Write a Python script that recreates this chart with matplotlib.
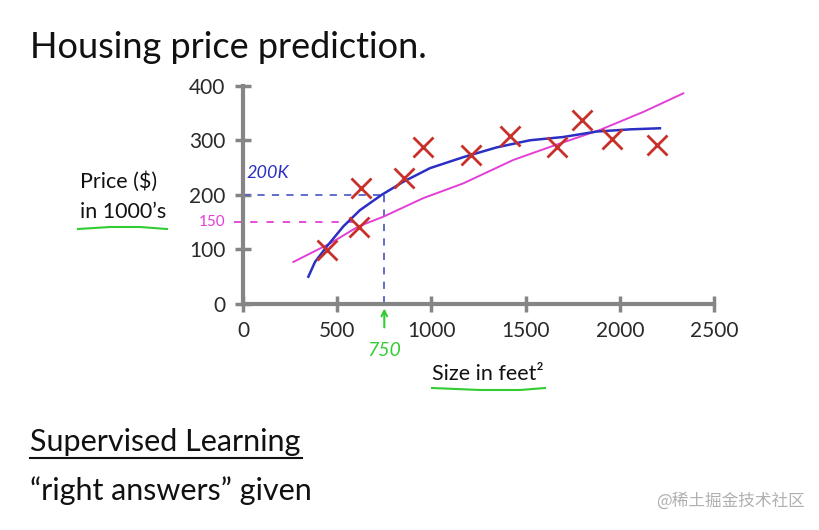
import matplotlib
matplotlib.use('Agg')
import matplotlib.pyplot as plt
from matplotlib.lines import Line2D

plt.rcParams['font.family'] = ['Lato', 'DejaVu Sans']

# training examples (size in feet^2, price in $1000's)
size = [447, 615, 624, 855, 953, 1211, 1416, 1665, 1798, 1958, 2198]
price = [99, 141, 212, 230, 287, 273, 308, 287, 337, 302, 291]

# hand drawn fits
quad_x = [347, 382, 444, 532, 621, 736, 851, 993, 1169, 1347, 1523, 1700, 1877, 2054, 2213]
quad_y = [50, 77, 105, 142, 172, 200, 224, 249, 269, 287, 300, 306, 316, 320, 322]
lin_x = [267, 462, 612, 745, 957, 1169, 1435, 1656, 1895, 2125, 2337]
lin_y = [77, 111, 142, 160, 194, 221, 264, 291, 319, 352, 386]

xticks = [0, 500, 1000, 1500, 2000, 2500]
yticks = [0, 100, 200, 300, 400]

W, H = 820, 530
fig = plt.figure(figsize=(W / 100, H / 100), dpi=100)


def fx(x):
    return x / W


def fy(y):
    return 1 - y / H


ax = fig.add_axes([fx(243), fy(304), fx(714) - fx(243), fy(85.7) - fy(304)])
ax.set_xlim(0, 2500)
ax.set_ylim(0, 400)
for s in ['top', 'right']:
    ax.spines[s].set_visible(False)
for s in ['left', 'bottom']:
    ax.spines[s].set_color('#858585')
    ax.spines[s].set_linewidth(3)
ax.set_xticks(xticks)
ax.set_yticks(yticks)
ax.tick_params(direction='inout', length=11, width=2.5, color='#858585',
               labelsize=15, labelcolor='#2a2a2a', pad=7)

blue = '#2b2fc4'
pink = '#e23fd6'
green = '#33cc33'

# guide lines
ax.plot([0, 750], [200, 200], ls=(0, (4, 4)), color='#5560c8', lw=1.3, clip_on=False)
ax.plot([750, 750], [200, 0], ls=(0, (4, 4)), color='#5560c8', lw=1.3, clip_on=False)
ax.plot([-50, 615], [150, 150], ls=(0, (4, 5)), color=pink, lw=1.3, clip_on=False)

ax.plot(lin_x, lin_y, color=pink, lw=1.4)
ax.plot(quad_x, quad_y, color=blue, lw=1.8)
ax.plot(size, price, 'x', color='#c8302a', ms=14, mew=2)

ax.text(20, 230, '200K', color=blue, fontsize=13, style='italic')
ax.text(-95, 150, '150', color=pink, fontsize=11, ha='right', va='center')
ax.annotate('', xy=(750, -3), xytext=(750, -48), annotation_clip=False,
            arrowprops=dict(arrowstyle='->', color=green, lw=1.5))
ax.text(750, -85, '750', color=green, fontsize=14, ha='center', va='center', style='italic')

fig.text(fx(30), fy(47), 'Housing price prediction.', fontsize=26, va='center', color='#111111')
fig.text(fx(80), fy(182), 'Price ($)', fontsize=15.5, va='center', color='#111111')
fig.text(fx(80), fy(212), 'in 1000\u2019s', fontsize=15.5, va='center', color='#111111')
fig.text(fx(432), fy(374), 'Size in feet\u00b2', fontsize=15.5, va='center', color='#111111')
fig.text(fx(30), fy(442), 'Supervised Learning', fontsize=22, va='center', color='#111111')
fig.text(fx(30), fy(491), '\u201cright answers\u201d given', fontsize=22, va='center', color='#111111')

# underlines
fig.add_artist(Line2D([fx(30), fx(302)], [fy(458), fy(458)], color='#111111', lw=1.5))
fig.add_artist(Line2D([fx(78), fx(110), fx(140), fx(167)],
                      [fy(229), fy(227), fy(227), fy(229)], color=green, lw=1.5))
fig.add_artist(Line2D([fx(432), fx(480), fx(520), fx(545)],
                      [fy(388), fy(390), fy(390), fy(388)], color=green, lw=1.5))

fig.text(fx(805), fy(501), '@稀土掘金技术社区', fontsize=12, ha='right', va='center',
         color='#b0b0b0', family=['Noto Sans CJK SC', 'DejaVu Sans'])

fig.savefig('out.png', dpi=100, facecolor='white')
